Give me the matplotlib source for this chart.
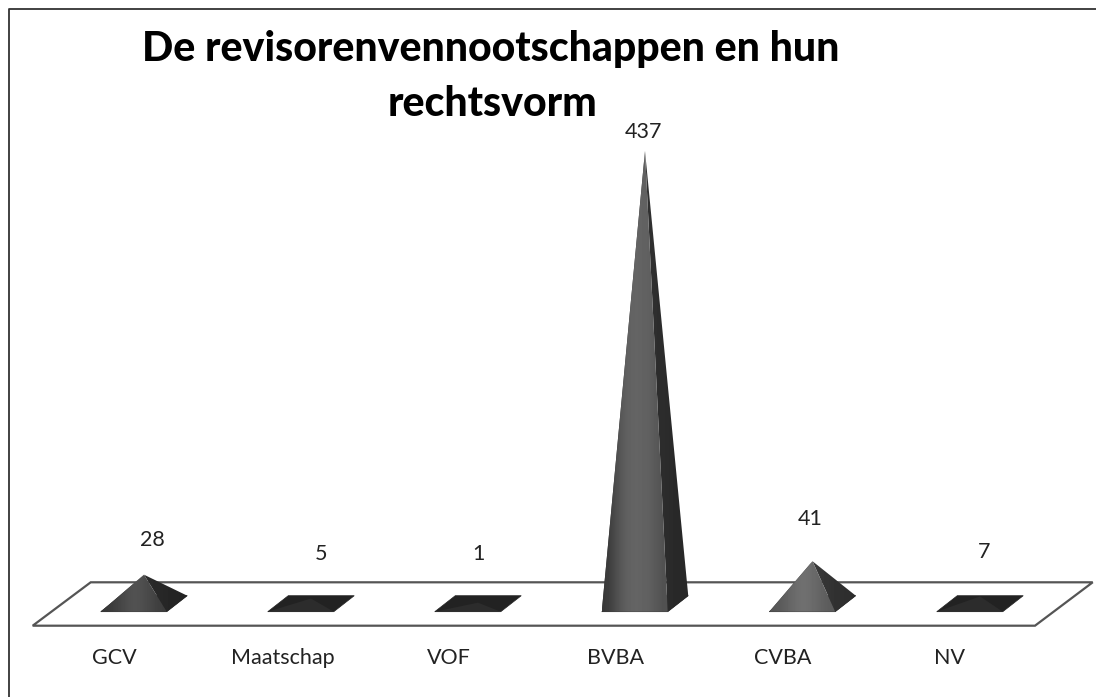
import numpy as np
import matplotlib
matplotlib.use("Agg")
import matplotlib.pyplot as plt
from matplotlib.patches import Polygon

categories = ["GCV", "Maatschap", "VOF", "BVBA", "CVBA", "NV"]
values = [28, 5, 1, 437, 41, 7]
title_lines = ["De revisorenvennootschappen en hun", "rechtsvorm"]

W, H = 1096, 697
plt.rcParams['font.family'] = ['Lato', 'DejaVu Sans']
fig = plt.figure(figsize=(W / 100, H / 100), dpi=100, facecolor='white')
ax = fig.add_axes([0, 0, 1, 1])
ax.axis('off')

# y axis is in value units; x axis in pixels along the floor
BASE_PX = 603.7    # pixel row of value 0
SCALE = 1.036      # pixels per unit
ax.set_xlim(0, W)
ax.set_ylim((BASE_PX - H) / SCALE, BASE_PX / SCALE)

def py(p):
    return (BASE_PX - p) / SCALE

# frame
ax.plot([9.3, 9.3, 1096], [py(697), py(9.3), py(9.3)], color='#333333', lw=1.3, clip_on=False)

# floor
floor = [(32.7, py(625.7)), (1035, py(625.7)), (1092.7, py(582.3)), (90.7, py(582.3))]
ax.add_patch(Polygon(floor, closed=True, fc='white', ec='#555555', lw=1.6, zorder=1))

centers = [144, 311, 478, 645, 812.5, 980]
label_x = [152.7, 320.6, 478, 643.5, 810, 984]
label_px = [540, 554.4, 554.4, 132, 519, 552]
cat_label_x = [114.5, 282.5, 449, 615.5, 783, 950]
half_w = 33
skew = 20.5
front_y, back_y = py(611.7), py(595.7)

def shaded(poly, stops, extent, zorder):
    grad = np.array([stops])
    im = ax.imshow(grad, extent=extent, cmap='gray', vmin=0, vmax=255,
                   aspect='auto', interpolation='bicubic', zorder=zorder)
    patch = Polygon(poly, closed=True, transform=ax.transData, fc='none', ec='none')
    ax.add_patch(patch)
    im.set_clip_path(patch)

for i, (c, v) in enumerate(zip(centers, values)):
    fl = (c - half_w - skew / 2, front_y)
    fr = (c + half_w - skew / 2, front_y)
    br = (c + half_w + skew / 2, back_y)
    bl = (c - half_w + skew / 2, back_y)
    apex = (c, v)
    ax.add_patch(Polygon([fl, fr, br, bl], closed=True, fc='#222222', ec='#222222', lw=0.5, zorder=3))
    if v >= 10:
        ext = (fl[0], br[0], front_y, v)
        tall = v > 100
        if tall:
            front_stops, side_stops = [55, 85, 100, 100, 95, 80], [55, 50, 40]
        elif v > 30:
            front_stops, side_stops = [85, 100, 115, 105, 90], [70, 60, 45]
        else:
            front_stops, side_stops = [55, 70, 85, 75, 60], [50, 45, 35]
        shaded([fl, apex, bl], [55, 55], ext, 3.5)
        shaded([fr, br, apex], side_stops, ext, 4)
        shaded([fl, fr, apex], front_stops, (fl[0], fr[0], front_y, v), 5)
    else:
        ax.add_patch(Polygon([fl, fr, apex], closed=True, fc='#2c2c2c', ec='none', zorder=4))
    ax.text(label_x[i], py(label_px[i]), str(v), ha='center', va='center',
            fontsize=15.5, color='#222222', zorder=6)
    ax.text(cat_label_x[i], py(658.5), categories[i], ha='center', va='center',
            fontsize=15.5, color='#222222', zorder=6)

ax.text(490.4, py(49), title_lines[0], ha='center', va='center', fontsize=29.5,
        fontweight='black', color='black', zorder=7)
ax.text(492, py(104), title_lines[1], ha='center', va='center', fontsize=29.5,
        fontweight='black', color='black', zorder=7)

ax.set_xlim(0, W)
ax.set_ylim((BASE_PX - H) / SCALE, BASE_PX / SCALE)
fig.savefig('out.png', dpi=100, facecolor='white')
